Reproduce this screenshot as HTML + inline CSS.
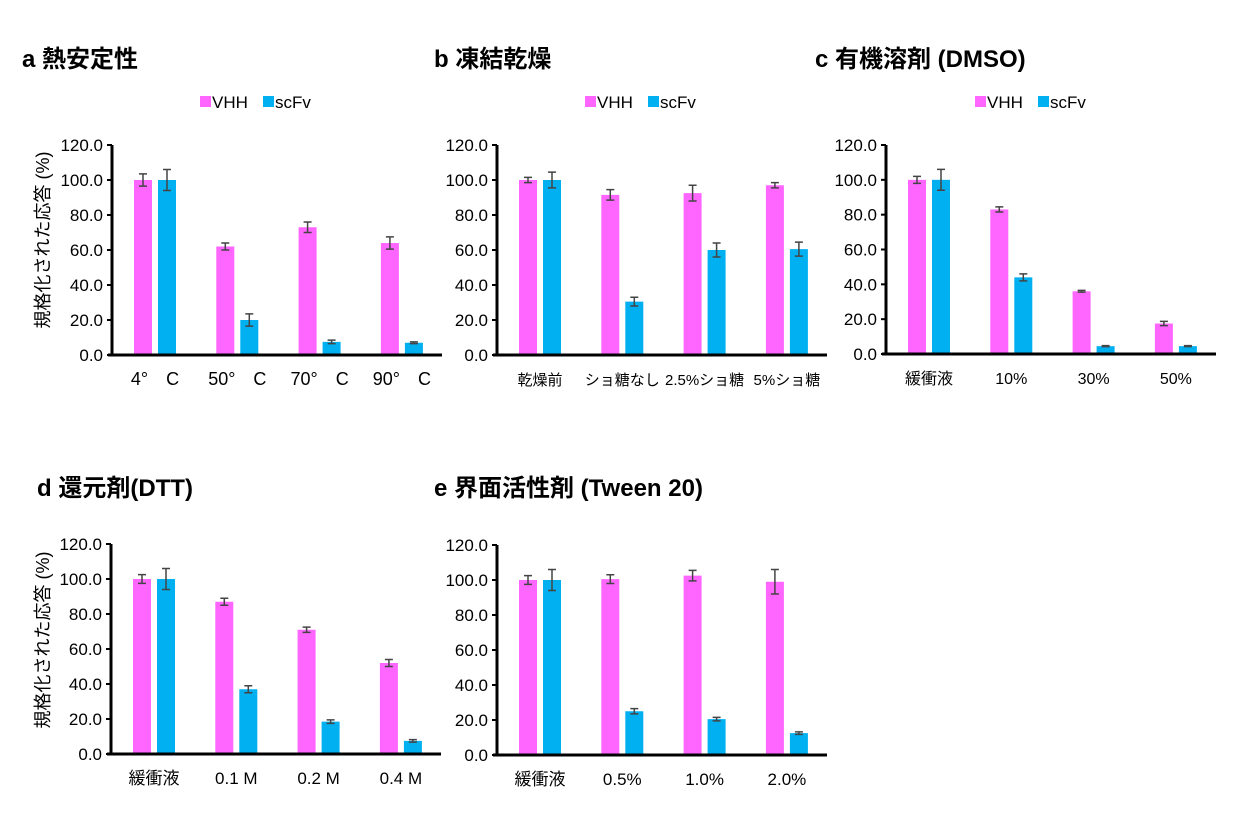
<!DOCTYPE html>
<html><head><meta charset="utf-8"><style>
html,body{margin:0;padding:0;background:#fff;}
svg{display:block;font-family:"Liberation Sans","Noto Sans CJK JP",sans-serif;}
</style></head><body>
<svg id="s" width="1246" height="825" viewBox="0 0 1246 825" xmlns="http://www.w3.org/2000/svg">
<g font-weight="bold" font-size="24" fill="#000">
<text x="22" y="67">a 熱安定性</text>
<text x="434" y="67">b 凍結乾燥</text>
<text x="815" y="67">c 有機溶剤 (DMSO)</text>
<text x="37" y="496">d 還元剤(DTT)</text>
<text x="434" y="496">e 界面活性剤 (Tween 20)</text>
</g>
</svg>
<script>
var s=document.getElementById('s'),NS='http://www.w3.org/2000/svg';
function el(t,a,txt){var e=document.createElementNS(NS,t);for(var k in a)e.setAttribute(k,a[k]);if(txt!==undefined)e.textContent=txt;s.appendChild(e);return e;}
var P='#ff66ff',B='#00b0f0';
var panels=[
{ax:112,top:145,bot:355,cats:['4°　C','50°　C','70°　C','90°　C'],v:[100,62,73,64],ve:[3.5,2,3,3.5],c:[100,20,7.5,7],ce:[6,3.5,1,0.5],leg:200,yt:240,cf:18},
{ax:497,top:145,bot:355,cats:['乾燥前','ショ糖なし','2.5%ショ糖','5%ショ糖'],v:[100,91.5,92.5,97],ve:[1.5,3,4.5,1.5],c:[100,30.5,60,60.5],ce:[4.5,2.5,4,4],leg:585,cf:15},
{ax:886,top:145,bot:354,cats:['緩衝液','10%','30%','50%'],v:[100,83,36,17.5],ve:[2,1.5,0.5,1.2],c:[100,44,4.5,4.5],ce:[6,2,0.3,0.3],leg:975,cf:16},
{ax:111,top:544,bot:754,cats:['緩衝液','0.1 M','0.2 M','0.4 M'],v:[100,87,71,52],ve:[2.5,2,1.5,2],c:[100,37,18.5,7.5],ce:[6,2,1,0.7],yt:640,cf:17},
{ax:497,top:545,bot:755,cats:['緩衝液','0.5%','1.0%','2.0%'],v:[100,100.5,102.5,99],ve:[2.5,2.5,3,7],c:[100,25,20.5,12.5],ce:[6,1.5,1,0.7],cf:17}
];
panels.forEach(function(p){
 var sc=(p.bot-p.top)/120;
 function Y(v){return p.bot-v*sc;}
 for(var i=0;i<=6;i++){var y=Y(i*20);
  el('text',{x:p.ax-9,y:y+6,'text-anchor':'end','font-size':17},(i*20).toFixed(1));
  el('line',{x1:p.ax-5,x2:p.ax,y1:y,y2:y,stroke:'#000','stroke-width':2});}
 for(var g=0;g<4;g++){
  var x0=p.ax+22+g*82.3;
  [[x0,p.v[g],p.ve[g],P],[x0+24,p.c[g],p.ce[g],B]].forEach(function(b){
   el('rect',{x:b[0],y:Y(b[1]),width:18,height:b[1]*sc,fill:b[3]});
   var cx=b[0]+9,y1=Y(b[1]+b[2]),y2=Y(b[1]-b[2]);
   el('path',{d:'M'+cx+' '+y1+'V'+y2+'M'+(cx-4)+' '+y1+'H'+(cx+4)+'M'+(cx-4)+' '+y2+'H'+(cx+4),stroke:'#444','stroke-width':1.5,fill:'none'});
  });
  el('text',{x:x0+21,y:p.bot+30,'text-anchor':'middle','font-size':p.cf},p.cats[g]);
 }
 el('line',{x1:p.ax,x2:p.ax,y1:p.top,y2:p.bot+1.5,stroke:'#000','stroke-width':3});
 el('line',{x1:p.ax-4,x2:p.ax+330,y1:p.bot,y2:p.bot,stroke:'#000','stroke-width':3});
 if(p.leg){
  el('rect',{x:p.leg,y:96,width:11,height:11,fill:P});
  el('text',{x:p.leg+12,y:108,'font-size':17},'VHH');
  el('rect',{x:p.leg+63,y:96,width:11,height:11,fill:B});
  el('text',{x:p.leg+75,y:108,'font-size':17},'scFv');
 }
 if(p.yt){
  el('text',{x:0,y:0,'font-size':18,'text-anchor':'middle',transform:'translate(49,'+p.yt+') rotate(-90)'},'規格化された応答 (%)');
 }
});
</script>
</body></html>
